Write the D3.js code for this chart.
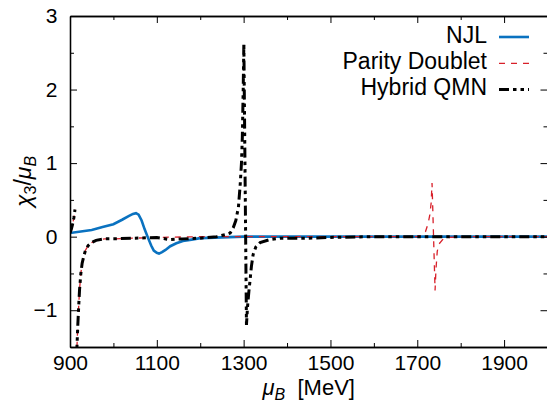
<!DOCTYPE html>
<html>
<head>
<meta charset="utf-8">
<script src="https://cdn.jsdelivr.net/npm/d3@7"></script>
<style>
  body { margin: 0; background: #fff; }
  svg { display: block; font-family: "Liberation Sans", Arial, sans-serif; }
</style>
</head>
<body>
<svg id="chart" width="547" height="402"></svg>
<script>
// chemical potential (MeV) and chi3/muB for each model, null = break in curve
const njlMu  = [900, 925, 950, 975, 1000, 1020, 1035, 1045, 1052, 1058, 1065, 1072, 1080, 1087, 1093, 1100, 1105, 1112, 1120, 1131, 1145, 1160, 1180, 1200, 1250, 1300, 2000];
const njlVal = [0.05, 0.07, 0.09, 0.13, 0.17, 0.23, 0.28, 0.31, 0.32, 0.30, 0.22, 0.10, -0.02, -0.12, -0.19, -0.22, -0.23, -0.21, -0.18, -0.13, -0.09, -0.06, -0.04, -0.02, -0.01, 0, 0];

const pdMu  = [900, 903, 906, 909, 911.5, null, 915, 916, 918, 920, 922, 925, 928, 932, 936, 942, 950, 960, 980, 1000, 1050, 1100, 1200, 1700, 1710, 1719, 1725, 1729, 1732, 1734, 1741, 1743, 1746, 1750, 1760, 1775, 1800, 2000];
const pdVal = [0.05, 0.1, 0.17, 0.26, 0.37, null, -2.0, -1.5, -1.2, -0.95, -0.72, -0.5, -0.36, -0.26, -0.18, -0.12, -0.08, -0.05, -0.03, -0.03, -0.02, -0.01, 0, 0, 0.02, 0.07, 0.18, 0.3, 0.46, 0.73, -0.73, -0.45, -0.2, -0.1, -0.03, -0.01, 0, 0];

const hyMu  = [900, 903, 906, 909, 911.5, null, 915, 916, 918, 920, 922, 925, 928, 932, 936, 942, 950, 960, 980, 1000, 1050, 1100, 1130, 1160, 1200, 1238, 1260, 1269, 1276, 1282, 1288, 1292, 1295, 1297, 1299, 1300.5, 1306.5, 1309, 1312, 1315, 1318, 1322, 1328, 1338, 1360, 1384, 1450, 1500, 1600, 2000];
const hyVal = [0.05, 0.1, 0.17, 0.26, 0.37, null, -2.0, -1.5, -1.2, -0.95, -0.72, -0.5, -0.36, -0.26, -0.18, -0.12, -0.08, -0.05, -0.03, -0.03, -0.02, -0.01, -0.04, -0.03, -0.02, 0, 0.03, 0.05, 0.12, 0.22, 0.4, 0.7, 1.0, 1.35, 2.0, 2.63, -1.2, -0.95, -0.75, -0.58, -0.4, -0.24, -0.14, -0.08, -0.04, -0.02, -0.02, -0.01, 0, 0];

const xMajor = [900, 1100, 1300, 1500, 1700, 1900];
const xMinor = [1000, 1200, 1400, 1600, 1800, 2000];
const yMajor = [-1, 0, 1, 2, 3];
const yMinor = [-1.5, -0.5, 0.5, 1.5, 2.5];

const legendNames = ["NJL", "Parity Doublet", "Hybrid QMN"];

const svg = d3.select("#chart");
const pLeft = 70, pRight = 547.5, pTop = 16, pBottom = 347;

const x = d3.scaleLinear().domain([900, 2000]).range([pLeft, pRight]);
const y = d3.scaleLinear().domain([-1.5, 3]).range([pBottom, pTop]);

svg.append("clipPath").attr("id", "clip")
  .append("rect").attr("x", pLeft).attr("y", pTop).attr("width", pRight - pLeft).attr("height", pBottom - pTop);

function toPoints(mu, val) {
  return mu.map((m, i) => ({ m: m, v: val[i] }));
}

const line = d3.line()
  .defined(d => d.m !== null && d.v !== null)
  .x(d => x(d.m))
  .y(d => y(d.v));

const styles = [
  { color: "#0a72c0", width: 2.6, dash: null },
  { color: "#d8202a", width: 1.3, dash: "6,6" },
  { color: "#000000", width: 3, dash: "10,4,3.5,4,3.5,4" }
];
const series = [toPoints(njlMu, njlVal), toPoints(pdMu, pdVal), toPoints(hyMu, hyVal)];

const plot = svg.append("g").attr("clip-path", "url(#clip)");
series.forEach((s, i) => {
  plot.append("path")
    .datum(s)
    .attr("fill", "none")
    .attr("stroke", styles[i].color)
    .attr("stroke-width", styles[i].width)
    .attr("stroke-dasharray", styles[i].dash)
    .attr("d", line);
});

// axes, ticks pointing inward, mirrored on top and right
function styleAxis(g, size) {
  g.select(".domain").attr("stroke", "#000").attr("stroke-width", 1.3);
  g.selectAll(".tick line").attr("stroke", "#000").attr("stroke-width", 1);
  g.selectAll("text").attr("font-family", "Liberation Sans, Arial, sans-serif")
    .attr("font-size", size).attr("fill", "#000");
}

const fmt = d3.format("d");
svg.append("g").attr("transform", `translate(0,${pBottom})`)
  .call(d3.axisBottom(x).tickValues(xMajor).tickSize(-7).tickSizeOuter(0).tickPadding(8).tickFormat(fmt))
  .call(g => styleAxis(g, 21));
svg.append("g").attr("transform", `translate(0,${pBottom})`)
  .call(d3.axisBottom(x).tickValues(xMinor).tickSize(-4).tickSizeOuter(0).tickFormat(""))
  .call(g => styleAxis(g, 21));
svg.append("g").attr("transform", `translate(0,${pTop})`)
  .call(d3.axisTop(x).tickValues(xMajor).tickSize(-7).tickSizeOuter(0).tickFormat(""))
  .call(g => styleAxis(g, 21));
svg.append("g").attr("transform", `translate(0,${pTop})`)
  .call(d3.axisTop(x).tickValues(xMinor).tickSize(-4).tickSizeOuter(0).tickFormat(""))
  .call(g => styleAxis(g, 21));

svg.append("g").attr("transform", `translate(${pLeft},0)`)
  .call(d3.axisLeft(y).tickValues(yMajor).tickSize(-7).tickSizeOuter(0).tickPadding(12.5).tickFormat(fmt))
  .call(g => styleAxis(g, 21));
svg.append("g").attr("transform", `translate(${pLeft},0)`)
  .call(d3.axisLeft(y).tickValues(yMinor).tickSize(-4).tickSizeOuter(0).tickFormat(""))
  .call(g => styleAxis(g, 21));
svg.append("g").attr("transform", `translate(${pRight},0)`)
  .call(d3.axisRight(y).tickValues(yMajor).tickSize(-7).tickSizeOuter(0).tickFormat(""))
  .call(g => styleAxis(g, 21));
svg.append("g").attr("transform", `translate(${pRight},0)`)
  .call(d3.axisRight(y).tickValues(yMinor).tickSize(-4).tickSizeOuter(0).tickFormat(""))
  .call(g => styleAxis(g, 21));

// axis titles
const xt = svg.append("text")
  .attr("x", (pLeft + pRight) / 2).attr("y", 395)
  .attr("text-anchor", "middle").attr("font-size", 22);
xt.append("tspan").attr("font-style", "italic").text("μ");
xt.append("tspan").attr("font-style", "italic").attr("font-size", 16).attr("dy", 5).text("B");
xt.append("tspan").attr("dy", -5).text("\u00a0 [MeV]");

const yt = svg.append("text")
  .attr("transform", `translate(31,${(pTop + pBottom) / 2}) rotate(-90)`)
  .attr("text-anchor", "middle").attr("font-size", 23);
yt.append("tspan").attr("font-style", "italic").text("χ");
yt.append("tspan").attr("font-size", 16).attr("dy", 5).text("3");
yt.append("tspan").attr("dy", -5).text("/");
yt.append("tspan").attr("font-style", "italic").text("μ");
yt.append("tspan").attr("font-style", "italic").attr("font-size", 16).attr("dy", 5).text("B");

// legend
const legend = svg.append("g");
legendNames.forEach((name, i) => {
  const cy = 37 + i * 26.3;
  legend.append("text")
    .attr("x", 487).attr("y", cy + 5.5)
    .attr("text-anchor", "end").attr("font-size", 23)
    .text(name);
  legend.append("line")
    .attr("x1", 499).attr("x2", 529).attr("y1", cy).attr("y2", cy)
    .attr("stroke", styles[i].color)
    .attr("stroke-width", styles[i].width)
    .attr("stroke-dasharray", styles[i].dash);
});
</script>
</body>
</html>
